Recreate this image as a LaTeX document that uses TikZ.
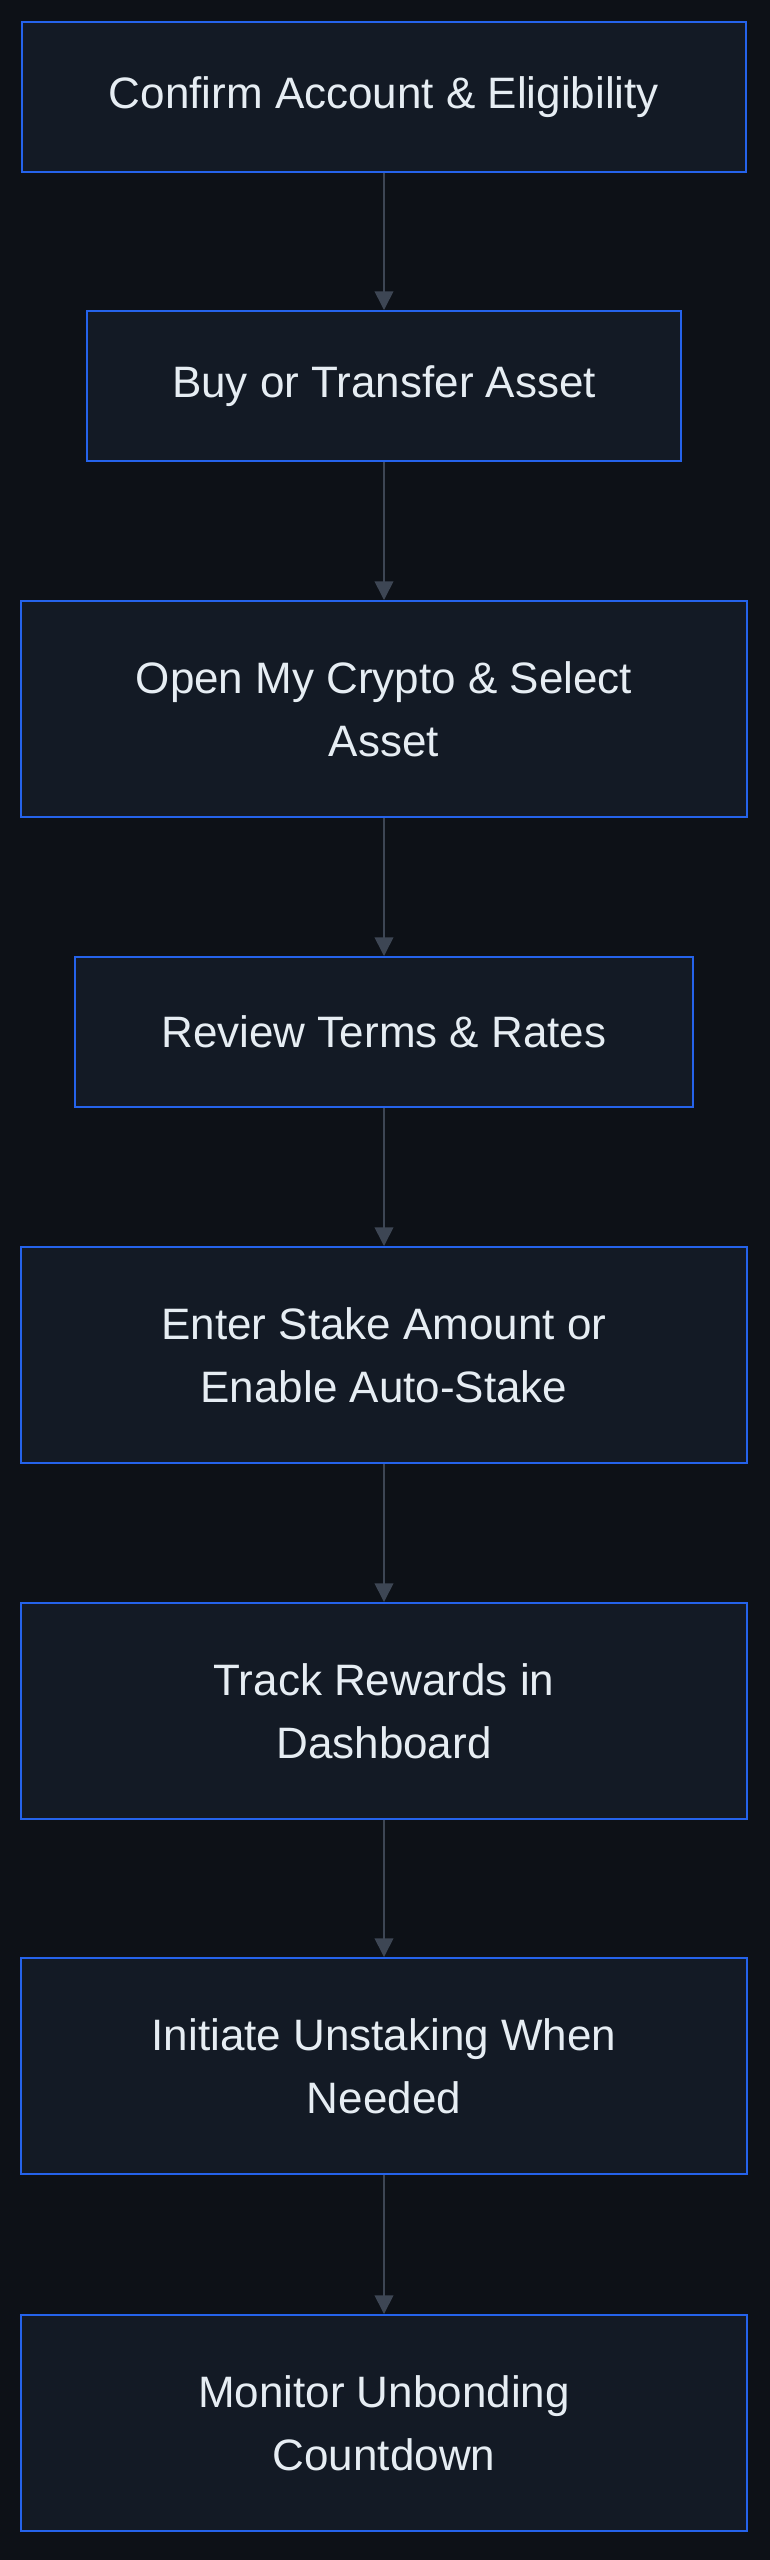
\documentclass[tikz,border=0pt]{standalone}
\usepackage{fontspec}
\setmainfont{Liberation Sans}
\usetikzlibrary{arrows.meta}
\definecolor{bg}{HTML}{0D1117}
\definecolor{boxfill}{HTML}{131A25}
\definecolor{boxline}{HTML}{2563EB}
\definecolor{arr}{HTML}{3D4654}
\definecolor{txt}{HTML}{E6EDF3}
\begin{document}
\begin{tikzpicture}[x=0.75pt,y=-0.75pt,
  box/.style={draw=boxline,line width=1.5pt,fill=boxfill,text=txt,align=center,inner sep=0pt,
    font=\fontsize{33}{47}\selectfont},
  conn/.style={draw=arr,line width=1.2pt,-{Triangle[length=14pt,width=14pt]}}]
\fill[bg] (0,0) rectangle (770,2560);
\useasboundingbox (0,0) rectangle (770,2560);
\node[box,minimum width=724*0.75pt,minimum height=150*0.75pt] (a) at (384,97) {Confirm Account \& Eligibility};
\node[box,minimum width=594*0.75pt,minimum height=150*0.75pt] (b) at (384,386) {Buy or Transfer Asset};
\node[box,minimum width=726*0.75pt,minimum height=216*0.75pt] (c) at (384,709) {Open My Crypto \& Select\\Asset};
\node[box,minimum width=618*0.75pt,minimum height=150*0.75pt] (d) at (384,1032) {Review Terms \& Rates};
\node[box,minimum width=726*0.75pt,minimum height=216*0.75pt] (e) at (384,1355) {Enter Stake Amount or\\Enable Auto-Stake};
\node[box,minimum width=726*0.75pt,minimum height=216*0.75pt] (f) at (384,1711) {Track Rewards in\\Dashboard};
\node[box,minimum width=726*0.75pt,minimum height=216*0.75pt] (g) at (384,2066) {Initiate Unstaking When\\Needed};
\node[box,minimum width=726*0.75pt,minimum height=216*0.75pt] (h) at (384,2423) {Monitor Unbonding\\Countdown};
\draw[conn] (a) -- (b);
\draw[conn] (b) -- (c);
\draw[conn] (c) -- (d);
\draw[conn] (d) -- (e);
\draw[conn] (e) -- (f);
\draw[conn] (f) -- (g);
\draw[conn] (g) -- (h);
\end{tikzpicture}
\end{document}
